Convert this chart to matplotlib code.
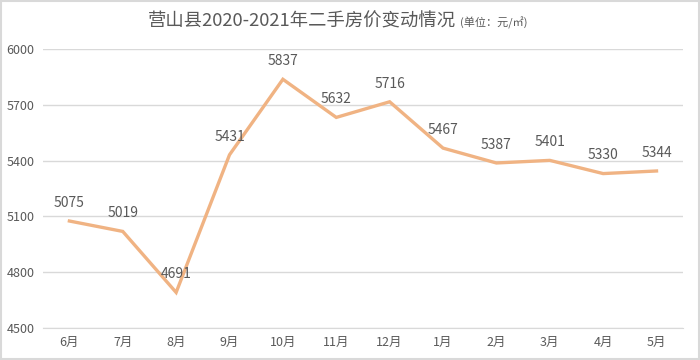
import matplotlib.pyplot as plt
from matplotlib.patches import Rectangle

plt.rcParams["font.family"] = ["Noto Sans CJK SC", "DejaVu Sans"]

months = ["6月", "7月", "8月", "9月", "10月", "11月", "12月", "1月", "2月", "3月", "4月", "5月"]
prices = [5075, 5019, 4691, 5431, 5837, 5632, 5716, 5467, 5387, 5401, 5330, 5344]
yticks = [4500, 4800, 5100, 5400, 5700, 6000]

line_color = "#F0B383"
grid_color = "#D9D9D9"
text_color = "#595959"

fig = plt.figure(figsize=(7, 3.6), dpi=100)
ax = fig.add_axes([0.061, 0.089, 0.915, 0.775])

x = list(range(len(months)))
ax.plot(x, prices, color=line_color, linewidth=2.4, solid_joinstyle="miter")

for xi, v in zip(x, prices):
    ax.annotate(str(v), (xi, v), xytext=(0, 8), textcoords="offset points",
                ha="center", va="bottom", fontsize=10, color=text_color)

ax.set_xlim(-0.5, len(months) - 0.5)
ax.set_ylim(4500, 6000)
ax.set_yticks(yticks)
ax.set_xticks(x)
ax.set_xticklabels(months)
ax.tick_params(axis="both", length=0, labelsize=9, colors=text_color)
ax.tick_params(axis="y", pad=6)
ax.tick_params(axis="x", pad=6)
ax.grid(axis="y", color=grid_color, linewidth=1)
ax.set_axisbelow(True)
for side in ["top", "right", "left"]:
    ax.spines[side].set_visible(False)
ax.spines["bottom"].set_color(grid_color)

title = fig.text(148 / 700, 1 - 22 / 360, "营山县2020-2021年二手房价变动情况",
                 ha="left", va="center", fontsize=13.2, color=text_color)
ax.annotate("(单位：元/㎡)", xy=(1, 0.45), xycoords=title, xytext=(3, 0),
            textcoords="offset points", ha="left", va="center",
            fontsize=8, color=text_color)

fig.patches.append(Rectangle((0.002, 0.003), 0.996, 0.994, transform=fig.transFigure,
                             fill=False, edgecolor=grid_color, linewidth=1.5))

fig.savefig("out.png", dpi=100)
